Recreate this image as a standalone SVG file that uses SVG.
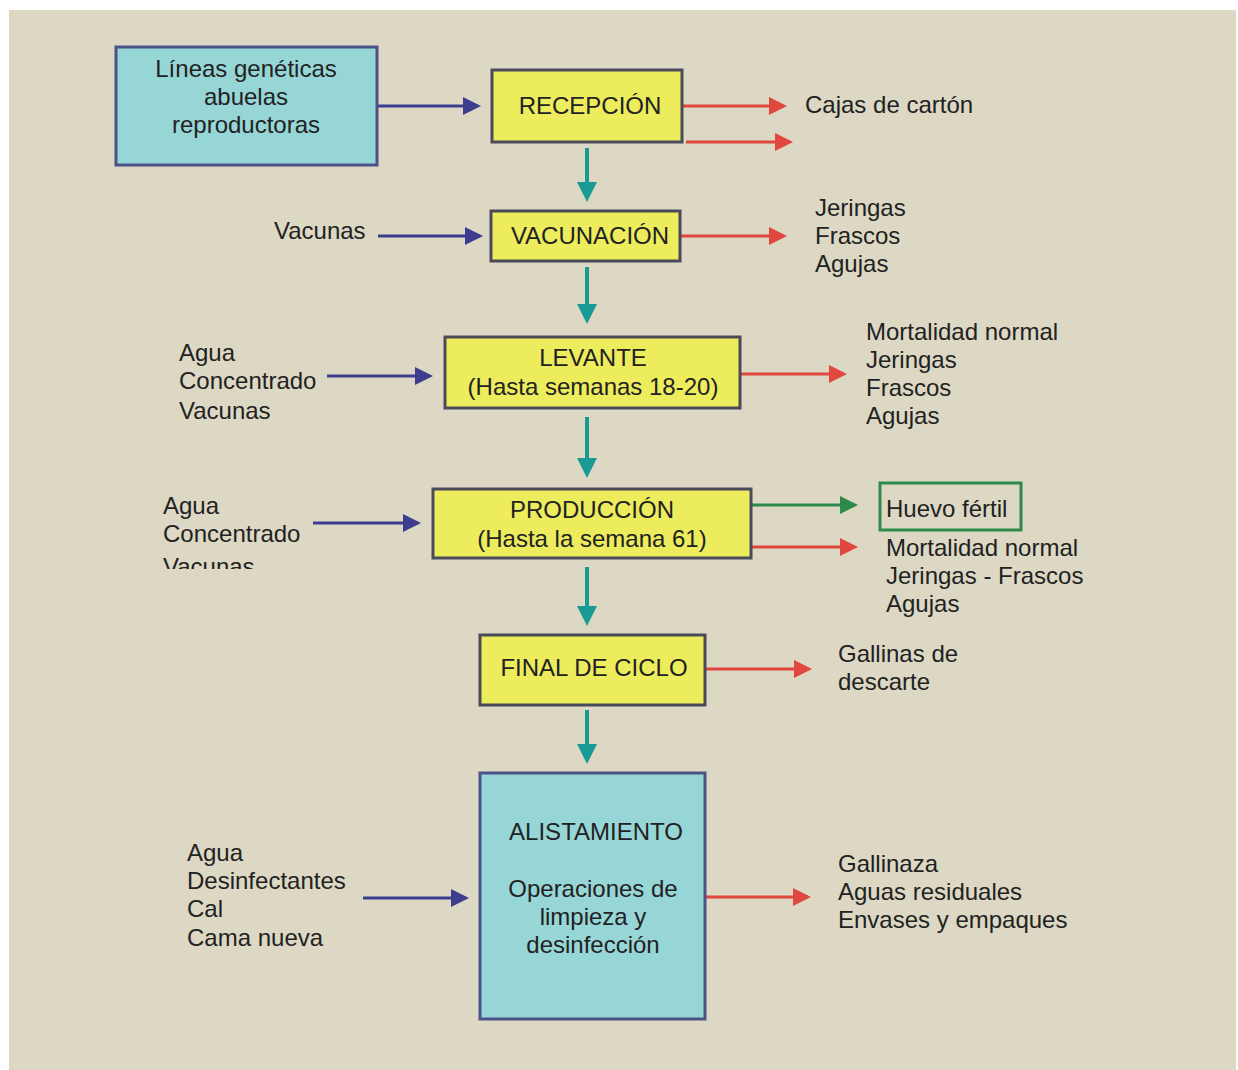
<svg xmlns="http://www.w3.org/2000/svg" width="1238" height="1070" viewBox="0 0 1238 1070">
<style>
text{font-family:"Liberation Sans",Arial,sans-serif;font-size:24px;fill:#222222}
.c{text-anchor:middle}
.proc{fill:#ecec5c;stroke:#4a4a5a;stroke-width:3}
.cyan{fill:#97d6d6;stroke:#4a5288;stroke-width:3}
.b{stroke:#3d3d8f;stroke-width:3;fill:none}
.r{stroke:#e0473f;stroke-width:3;fill:none}
.g{stroke:#2e8a4a;stroke-width:3;fill:none}
.t{stroke:#1a9a94;stroke-width:4;fill:none}
</style>
<defs>
<marker id="ab" markerWidth="6" markerHeight="6" refX="5" refY="3" orient="auto" markerUnits="strokeWidth"><path d="M0,0 L6,3 L0,6 z" fill="#3d3d8f"/></marker>
<marker id="ar" markerWidth="6" markerHeight="6" refX="5" refY="3" orient="auto" markerUnits="strokeWidth"><path d="M0,0 L6,3 L0,6 z" fill="#e0473f"/></marker>
<marker id="ag" markerWidth="6" markerHeight="6" refX="5" refY="3" orient="auto" markerUnits="strokeWidth"><path d="M0,0 L6,3 L0,6 z" fill="#2e8a4a"/></marker>
<marker id="at" markerWidth="5" markerHeight="5" refX="4" refY="2.5" orient="auto" markerUnits="strokeWidth"><path d="M0,0 L5,2.5 L0,5 z" fill="#1a9a94"/></marker>
<clipPath id="clipv"><rect x="150" y="480" width="200" height="89"/></clipPath>
</defs>
<rect x="0" y="0" width="1238" height="1070" fill="#ffffff"/>
<rect x="9" y="10" width="1227" height="1060" fill="#dcd8c3"/>

<g id="connectors">
<line class="b" x1="378" y1="106" x2="478" y2="106" marker-end="url(#ab)"/>
<line class="b" x1="378" y1="236" x2="480" y2="236" marker-end="url(#ab)"/>
<line class="b" x1="327" y1="376" x2="430" y2="376" marker-end="url(#ab)"/>
<line class="b" x1="313" y1="523" x2="418" y2="523" marker-end="url(#ab)"/>
<line class="b" x1="363" y1="898" x2="466" y2="898" marker-end="url(#ab)"/>
<line class="r" x1="683" y1="106" x2="784" y2="106" marker-end="url(#ar)"/>
<line class="r" x1="686" y1="142" x2="790" y2="142" marker-end="url(#ar)"/>
<line class="r" x1="681" y1="236" x2="784" y2="236" marker-end="url(#ar)"/>
<line class="r" x1="741" y1="374" x2="844" y2="374" marker-end="url(#ar)"/>
<line class="r" x1="752" y1="547" x2="855" y2="547" marker-end="url(#ar)"/>
<line class="r" x1="706" y1="669" x2="809" y2="669" marker-end="url(#ar)"/>
<line class="r" x1="706" y1="897" x2="808" y2="897" marker-end="url(#ar)"/>
<line class="g" x1="752" y1="505" x2="855" y2="505" marker-end="url(#ag)"/>
<line class="t" x1="587" y1="148" x2="587" y2="198" marker-end="url(#at)"/>
<line class="t" x1="587" y1="267" x2="587" y2="320" marker-end="url(#at)"/>
<line class="t" x1="587" y1="417" x2="587" y2="474" marker-end="url(#at)"/>
<line class="t" x1="587" y1="567" x2="587" y2="622" marker-end="url(#at)"/>
<line class="t" x1="587" y1="710" x2="587" y2="760" marker-end="url(#at)"/>
</g>

<g id="lineas">
<rect class="cyan" x="116" y="47" width="261" height="118"/>
<text class="c" x="246" y="77">Líneas genéticas</text>
<text class="c" x="246" y="105">abuelas</text>
<text class="c" x="246" y="133">reproductoras</text>
</g>
<g id="recepcion">
<rect class="proc" x="492" y="70" width="190" height="72"/>
<text class="c" x="590" y="114">RECEPCIÓN</text>
</g>
<g id="vacunacion">
<rect class="proc" x="491" y="211" width="189" height="50"/>
<text class="c" x="590" y="244">VACUNACIÓN</text>
</g>
<g id="levante">
<rect class="proc" x="445" y="337" width="295" height="71"/>
<text class="c" x="593" y="366">LEVANTE</text>
<text class="c" x="593" y="395">(Hasta semanas 18-20)</text>
</g>
<g id="produccion">
<rect class="proc" x="433" y="489" width="318" height="69"/>
<text class="c" x="592" y="518">PRODUCCIÓN</text>
<text class="c" x="592" y="547">(Hasta la semana 61)</text>
</g>
<g id="final">
<rect class="proc" x="480" y="635" width="225" height="70"/>
<text class="c" x="594" y="676">FINAL DE CICLO</text>
</g>
<g id="alistamiento">
<rect class="cyan" x="480" y="773" width="225" height="246"/>
<text class="c" x="596" y="840">ALISTAMIENTO</text>
<text class="c" x="593" y="897">Operaciones de</text>
<text class="c" x="593" y="925">limpieza y</text>
<text class="c" x="593" y="953">desinfección</text>
</g>
<g id="huevo">
<rect x="880" y="483" width="141" height="47" fill="none" stroke="#2e8a4a" stroke-width="3"/>
<text x="886" y="517">Huevo fértil</text>
</g>

<g id="labels">
<text x="805" y="113">Cajas de cartón</text>
<text x="274" y="239">Vacunas</text>
<text x="815" y="216">Jeringas</text>
<text x="815" y="244">Frascos</text>
<text x="815" y="272">Agujas</text>
<text x="179" y="361">Agua</text>
<text x="179" y="389">Concentrado</text>
<text x="179" y="419">Vacunas</text>
<text x="866" y="340">Mortalidad normal</text>
<text x="866" y="368">Jeringas</text>
<text x="866" y="396">Frascos</text>
<text x="866" y="424">Agujas</text>
<g clip-path="url(#clipv)">
<text x="163" y="514">Agua</text>
<text x="163" y="542">Concentrado</text>
<text x="163" y="575">Vacunas</text>
</g>
<text x="886" y="556">Mortalidad normal</text>
<text x="886" y="584">Jeringas - Frascos</text>
<text x="886" y="612">Agujas</text>
<text x="838" y="662">Gallinas de</text>
<text x="838" y="690">descarte</text>
<text x="187" y="861">Agua</text>
<text x="187" y="889">Desinfectantes</text>
<text x="187" y="917">Cal</text>
<text x="187" y="946">Cama nueva</text>
<text x="838" y="872">Gallinaza</text>
<text x="838" y="900">Aguas residuales</text>
<text x="838" y="928">Envases y empaques</text>
</g>
</svg>
